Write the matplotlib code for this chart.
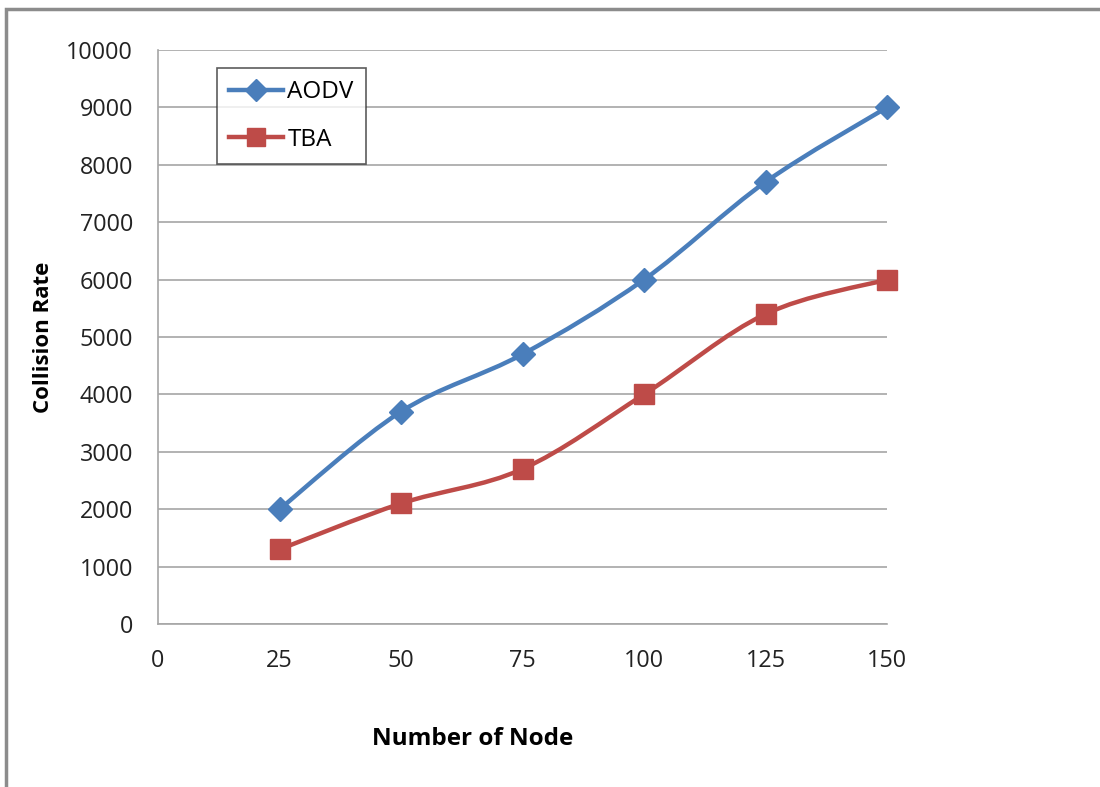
import matplotlib
matplotlib.use("Agg")
import matplotlib.pyplot as plt
from matplotlib.path import Path
from matplotlib.patches import PathPatch, Rectangle
from matplotlib.lines import Line2D
import numpy as np

nodes = [25, 50, 75, 100, 125, 150]
aodv = [2000, 3700, 4700, 6000, 7700, 9000]
tba = [1300, 2100, 2700, 4000, 5400, 6000]
x_ticks = [0, 25, 50, 75, 100, 125, 150]
y_ticks = list(range(0, 10001, 1000))

plt.rcParams['font.family'] = ['Open Sans', 'DejaVu Sans']

BLUE = '#4A7EBB'
RED = '#BE4B48'


def smooth_path(xs, ys):
    """Cubic Bezier path through the points (Catmull-Rom style smoothing)."""
    pts = np.column_stack([xs, ys]).astype(float)
    n = len(pts)
    verts = [pts[0]]
    codes = [Path.MOVETO]
    for i in range(n - 1):
        p0 = pts[i - 1] if i > 0 else pts[i]
        p1 = pts[i]
        p2 = pts[i + 1]
        p3 = pts[i + 2] if i + 2 < n else pts[i + 1]
        c1 = p1 + (p2 - p0) / 6.0
        c2 = p2 - (p3 - p1) / 6.0
        verts += [c1, c2, p2]
        codes += [Path.CURVE4] * 3
    return Path(verts, codes)


fig = plt.figure(figsize=(11, 7.87), dpi=100)
ax = fig.add_axes([158 / 1100, 1 - 624 / 787, (887 - 158) / 1100, (624 - 50) / 787])

ax.set_xlim(0, 150)
ax.set_ylim(0, 10000)
ax.set_xticks(x_ticks)
ax.set_yticks(y_ticks)
ax.tick_params(axis='both', length=0, labelsize=16.8, colors='#222222')
ax.tick_params(axis='x', pad=18)
ax.tick_params(axis='y', pad=18)

ax.grid(axis='y', color='#A6A6A6', linewidth=1.2)
ax.set_axisbelow(True)
for side in ['top', 'right']:
    ax.spines[side].set_visible(False)
for side in ['left', 'bottom']:
    ax.spines[side].set_color('#A6A6A6')
    ax.spines[side].set_linewidth(1.2)

for ys, color, marker, msize in [(aodv, BLUE, 'D', 12.5), (tba, RED, 's', 15)]:
    ax.add_patch(PathPatch(smooth_path(nodes, ys), facecolor='none',
                           edgecolor=color, linewidth=3.2, zorder=3,
                           capstyle='round'))
    ax.plot(nodes, ys, linestyle='none', marker=marker, markersize=msize,
            color=color, markeredgecolor=color, zorder=4, clip_on=False)

ax.set_xlabel('Number of Node', fontsize=17.5, fontweight='bold', va='center')
ax.xaxis.set_label_coords((473 - 158) / 729, (624 - 739) / 574)
ax.set_ylabel('Collision Rate', fontsize=16, fontweight='bold', va='center')
ax.yaxis.set_label_coords((44 - 158) / 729, (624 - 337) / 574)

handles = [
    Line2D([], [], color=BLUE, linewidth=3.2, marker='D', markersize=11),
    Line2D([], [], color=RED, linewidth=3.2, marker='s', markersize=13),
]
leg = ax.legend(handles, ['AODV', 'TBA'], loc='upper left',
                bbox_to_anchor=((217 - 158) / 729, (624 - 68) / 574),
                fontsize=17.5, frameon=True, fancybox=False, borderpad=0.5,
                labelspacing=0.97, handlelength=2.2, handletextpad=0.2,
                borderaxespad=0)
leg.get_frame().set_edgecolor('#333333')
leg.get_frame().set_linewidth(1.2)

# outer frame of the chart area
fig.patches.append(Rectangle((6 / 1100, -0.05), 1.2, 1 - 9 / 787 + 0.05,
                             transform=fig.transFigure, fill=False,
                             edgecolor='#8C8C8C', linewidth=2.5))

fig.savefig('out.png', dpi=100)
